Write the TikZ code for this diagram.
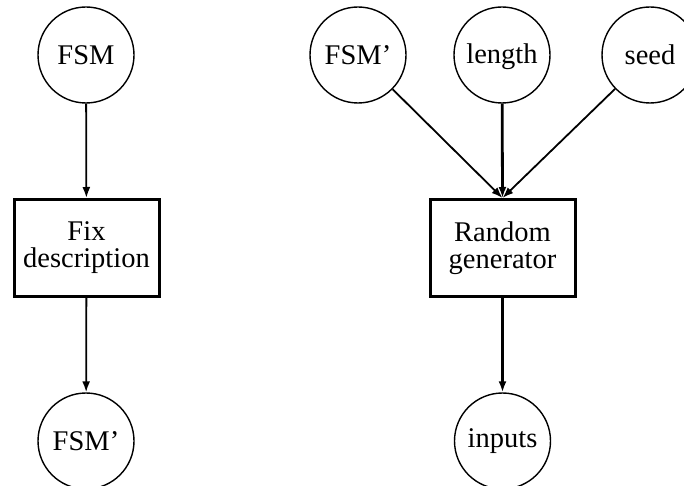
\documentclass[tikz,border=0pt]{standalone}
\usepackage{fontspec}
\setmainfont{Liberation Serif}
\usetikzlibrary{arrows.meta}
\begin{document}
\begin{tikzpicture}[x=1pt,y=-1pt,
  every node/.style={font=\fontsize{28.5}{27}\selectfont},
  datum/.style={circle,draw,line width=1.4pt,minimum size=96pt,inner sep=0pt},
  process/.style={rectangle,draw,line width=3pt,minimum width=145pt,minimum height=97pt,align=center,inner sep=0pt},
  flow/.style={line width=1.8pt,-{Latex[length=11pt,width=8pt]}},
  heavy/.style={flow,line width=2.8pt}]
  \useasboundingbox (0,0) rectangle (684,486);
  % left chain
  \node[datum] (fsm) at (86,55) {FSM};
  \node[process] (fix) at (86.5,248) {Fix\\description};
  \node[datum] (fsmout) at (86,441) {FSM'};
  % right chain
  \node[datum] (fsmin) at (358,55) {FSM'};
  \node[datum,text depth=3pt] (len) at (502,55) {length};
  \node[datum] (seed) at (650,55) {seed};
  \node[process] (gen) at (502.5,248) {Random\\generator};
  \node[datum] (inp) at (502.5,441) {inputs};
  % connectors
  \draw[flow] (fsm) -- (fix);
  \draw[flow] (fix) -- (fsmout);
  \draw[flow] (fsmin) -- (gen.north);
  \draw[heavy] (len) -- (gen.north);
  \draw[flow] (seed) -- (gen.north);
  \draw[heavy] (gen) -- (inp);
\end{tikzpicture}
\end{document}
